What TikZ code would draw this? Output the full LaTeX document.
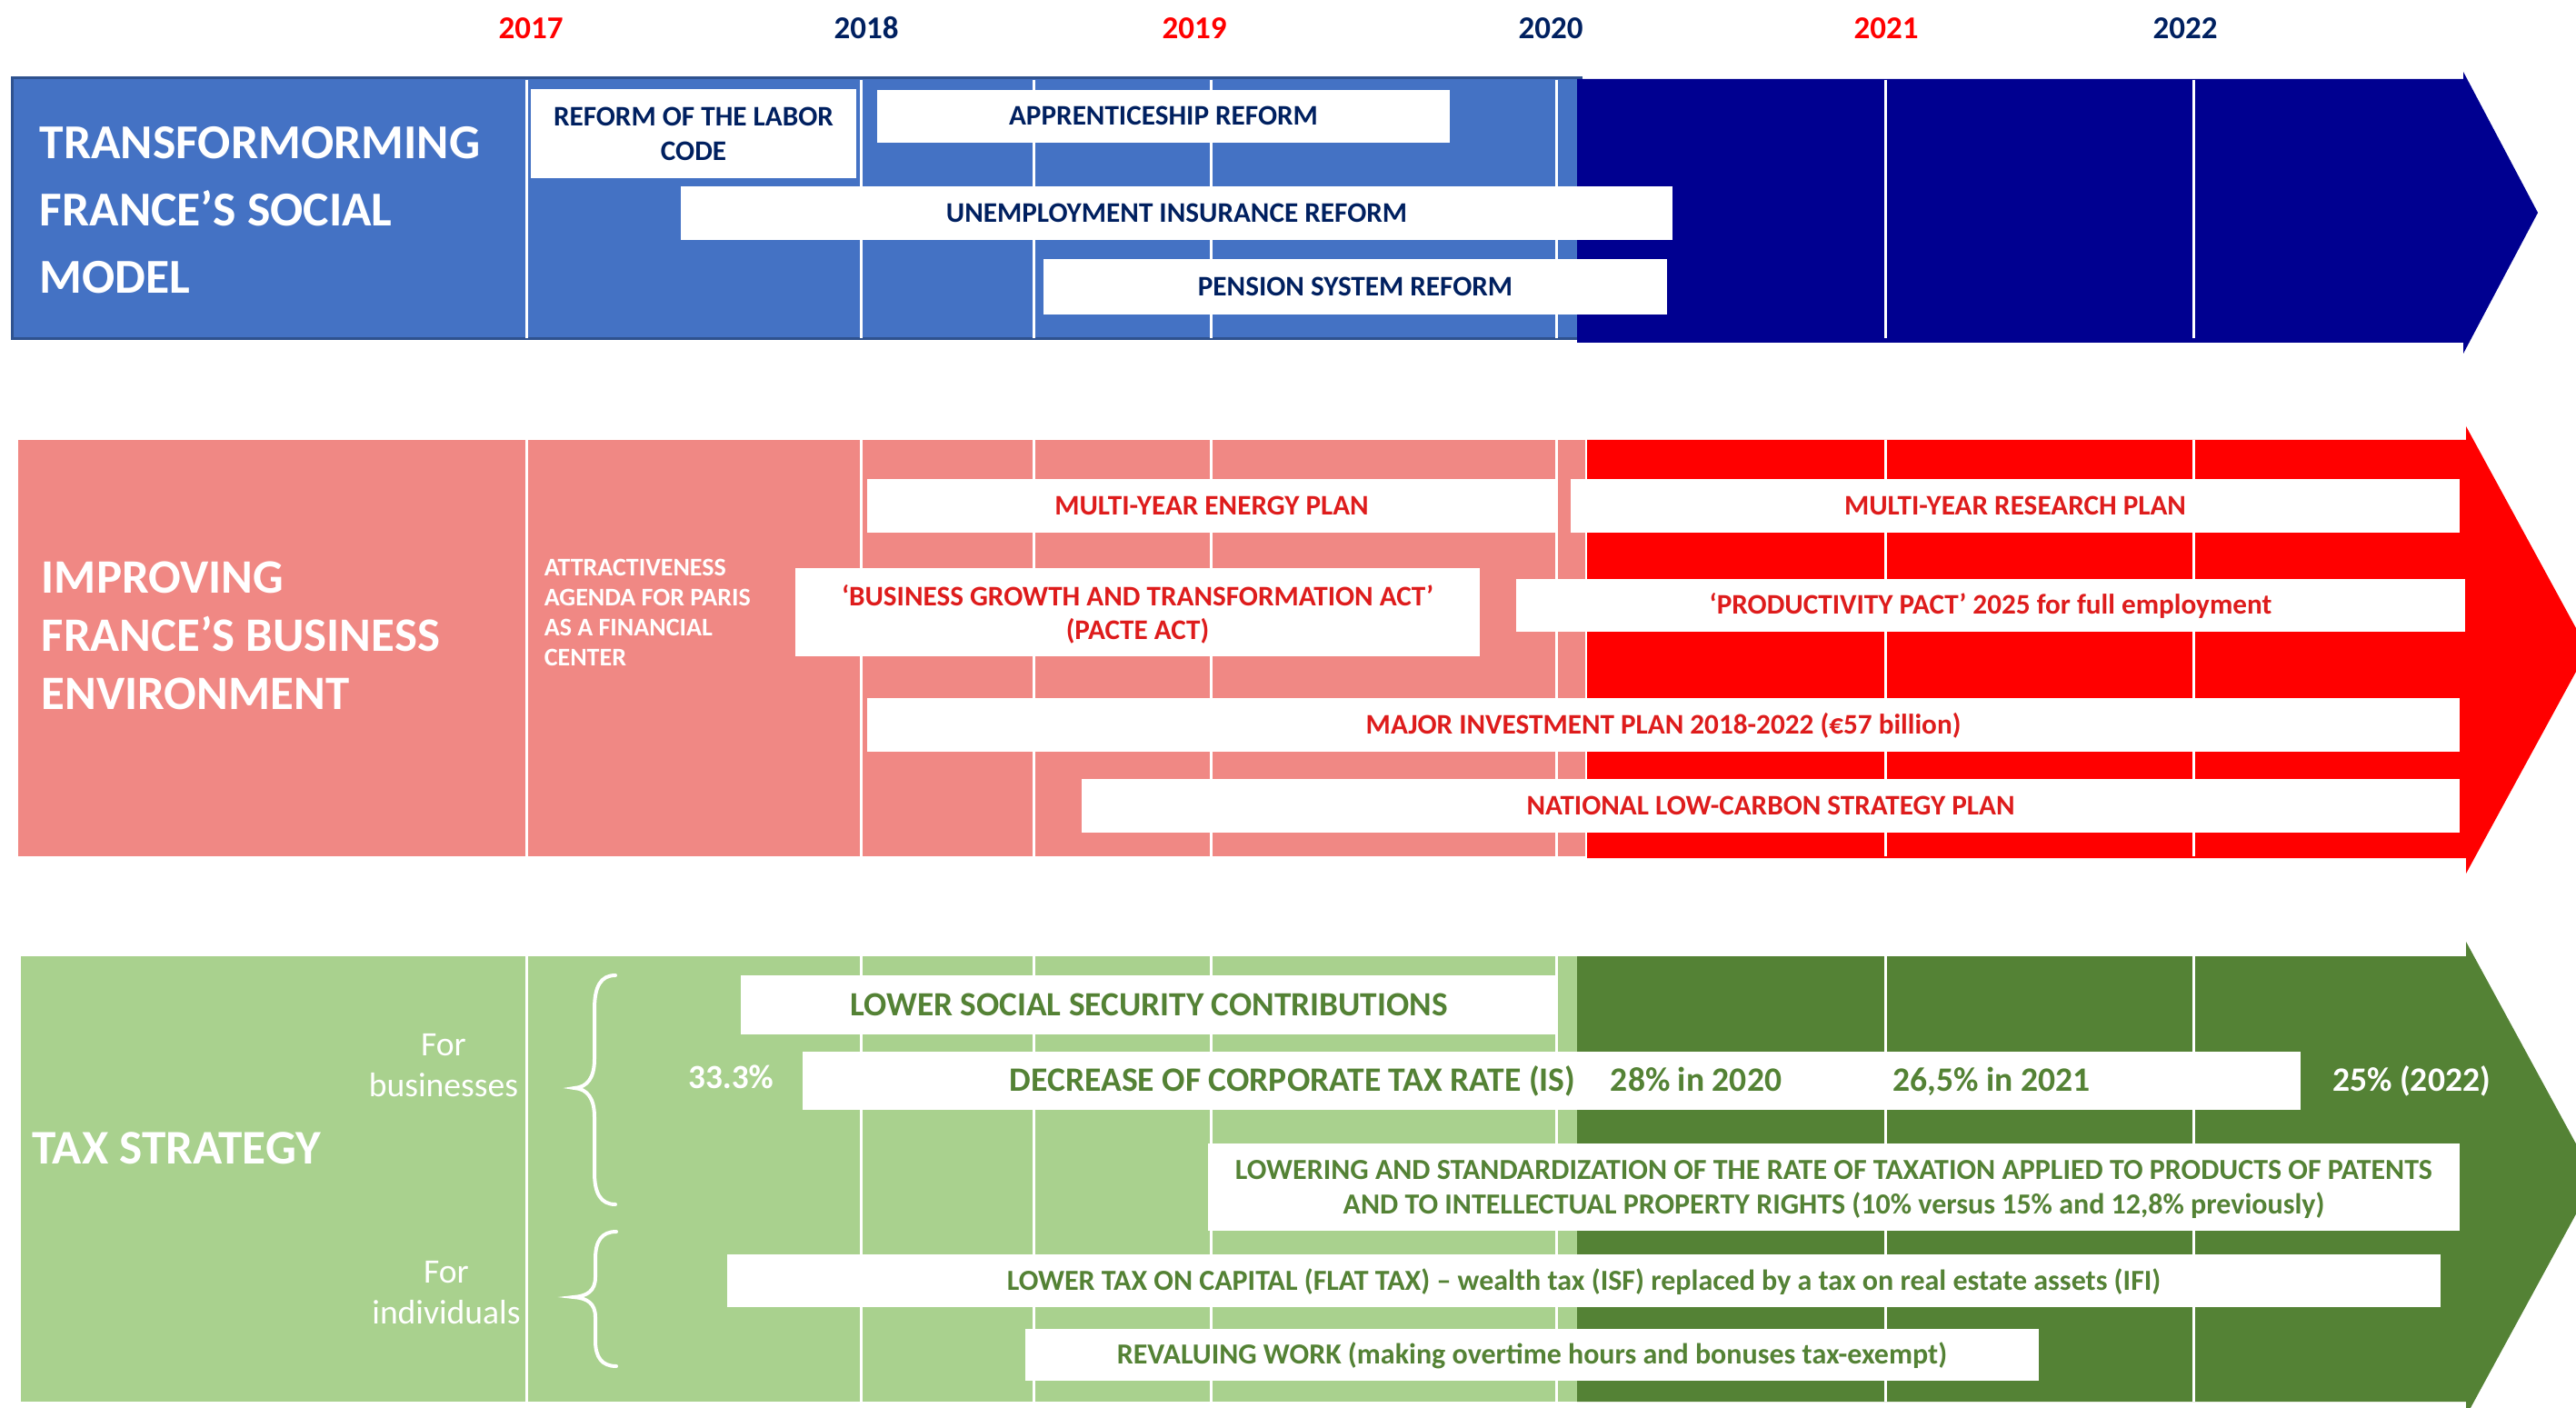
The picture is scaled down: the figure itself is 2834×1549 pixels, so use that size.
\documentclass[tikz,border=0pt]{standalone}
\usepackage{fontspec}
\setmainfont{Carlito}
\definecolor{blueL}{RGB}{68,114,196}
\definecolor{blueB}{RGB}{47,82,143}
\definecolor{navyF}{RGB}{0,0,144}
\definecolor{navyT}{RGB}{0,32,96}
\definecolor{pinkL}{RGB}{240,136,132}
\definecolor{redF}{RGB}{255,0,0}
\definecolor{redT}{RGB}{222,28,28}
\definecolor{greenL}{RGB}{169,209,142}
\definecolor{greenD}{RGB}{84,130,53}
\definecolor{greenT}{RGB}{84,130,53}
\begin{document}
\begin{tikzpicture}[x=0.25pt,y=-0.25pt,
  wbox/.style={fill=white, inner sep=0pt, align=center},
  bx/.style 2 args={minimum width=#1*0.25pt, minimum height=#2*0.25pt},
  capbox/.style={text height=#1, text depth=0pt},
  gridl/.style={white, line width=0.75pt},
  yr/.style={font=\bfseries\fontsize{8.75}{10}\selectfont, inner sep=0pt},
  ttl/.style={white, inner sep=0pt, align=left, anchor=west},
  lbl/.style={inner sep=0pt},
  bracestyle/.style={white, line width=1pt, line cap=round},
  fA/.style={font=\bfseries\fontsize{7.8}{9.5}\selectfont},
  fB/.style={font=\bfseries\fontsize{7.8}{9.25}\selectfont},
]
\useasboundingbox (0,0) rectangle (2834,1549);
\clip (0,0) rectangle (2834,1549);

% ---------- bands ----------
\fill[blueL, draw=blueB, line width=0.75pt] (13,86) rectangle (1739,373);
\fill[navyF] (1735,87) -- (2710,87) -- (2710,79) -- (2792,234) -- (2710,389) -- (2710,377) -- (1735,377) -- cycle;

\fill[pinkL] (20,484) rectangle (1744,942);
\fill[redF] (1746,484) -- (2713,484) -- (2713,469) -- (2847,715) -- (2713,961) -- (2713,944) -- (1746,944) -- cycle;

\fill[greenL] (23,1052) rectangle (1735,1542);
\fill[greenD] (1735,1052) -- (2713,1052) -- (2713,1036) -- (2855,1297) -- (2713,1558) -- (2713,1542) -- (1735,1542) -- cycle;

% ---------- grid lines ----------
\foreach \gx in {579,947,1137,1332,1712,2074,2413} {
  \draw[gridl] (\gx,88) -- (\gx,372);
  \draw[gridl] (\gx,484) -- (\gx,942);
  \draw[gridl] (\gx,1052) -- (\gx,1542);
}

% ---------- years ----------
\node[yr, text=redF]  (y17) at (584,31)  {2017};
\node[yr, text=navyT] (y18) at (953,31)  {2018};
\node[yr, text=redF]  (y19) at (1314,31) {2019};
\node[yr, text=navyT] (y20) at (1706,31) {2020};
\node[yr, text=redF]  (y21) at (2075,31) {2021};
\node[yr, text=navyT] (y22) at (2404,31) {2022};

% ---------- row 1 ----------
\node[ttl, font=\bfseries\fontsize{13.4}{18.5}\selectfont] (t1) at (43,231)
  {TRANSFORMORMING\\FRANCE’S SOCIAL\\MODEL};
\node[wbox, bx={358}{98}, fA, text=navyT] (labor) at (763,147) {REFORM OF THE LABOR\\CODE};
\node[wbox, bx={630}{58}, fA, capbox=4.93pt, text=navyT] (appr) at (1280,128) {APPRENTICESHIP REFORM};
\node[wbox, bx={1091}{59}, fA, capbox=4.93pt, text=navyT] (unemp) at (1294.5,234.5) {UNEMPLOYMENT INSURANCE REFORM};
\node[wbox, bx={686}{61}, fA, capbox=4.93pt, text=navyT] (pension) at (1491,315.5) {PENSION SYSTEM REFORM};

% ---------- row 2 ----------
\node[ttl, font=\bfseries\fontsize{13.2}{16}\selectfont] (t2) at (45,699.5)
  {IMPROVING\\FRANCE’S BUSINESS\\ENVIRONMENT};
\node[ttl, font=\bfseries\fontsize{7}{8.25}\selectfont] (attr) at (598,673.5)
  {ATTRACTIVENESS\\AGENDA FOR PARIS\\AS A FINANCIAL\\CENTER};
\node[wbox, bx={758}{59}, fB, capbox=4.93pt, text=redT] (energy) at (1333,556.5) {MULTI-YEAR ENERGY PLAN};
\node[wbox, bx={978}{59}, fB, capbox=4.93pt, text=redT] (research) at (2217,556.5) {MULTI-YEAR RESEARCH PLAN};
\node[wbox, bx={753}{97}, fB, text depth=0pt, text=redT] (pacte) at (1251.5,673.5) {‘BUSINESS GROWTH AND TRANSFORMATION ACT’\\(PACTE ACT)};
\node[wbox, bx={1044}{58}, fB, capbox=4.93pt, text=redT] (prod) at (2190,666) {‘PRODUCTIVITY PACT’ 2025 for full employment};
\node[wbox, bx={1752}{59}, fB, capbox=4.93pt, text=redT] (invest) at (1830,797.5) {MAJOR INVESTMENT PLAN 2018-2022 (€57 billion)};
\node[wbox, bx={1516}{59}, fB, capbox=4.93pt, text=redT] (lowc) at (1948,886.5) {NATIONAL LOW-CARBON STRATEGY PLAN};

% ---------- row 3 ----------
\node[ttl, font=\bfseries\fontsize{13.3}{16}\selectfont] (t3) at (35,1263.5) {TAX STRATEGY};
\node[lbl, white, align=center, font=\fontsize{9.4}{11.15}\selectfont] (forbus) at (488,1172) {For\\businesses};
\node[lbl, white, align=center, font=\fontsize{9.4}{11.15}\selectfont] (forind) at (491,1422) {For\\individuals};

\draw[bracestyle] (677,1073) .. controls (661,1073) and (654,1085) .. (654,1110) -- (654,1165)
  .. controls (654,1186) and (646,1196) .. (632,1197)
  .. controls (646,1198) and (654,1208) .. (654,1229) -- (654,1290)
  .. controls (654,1313) and (661,1325) .. (677,1325);
\draw[bracestyle] (678,1355) .. controls (662,1355) and (655,1365) .. (655,1385) -- (655,1405)
  .. controls (655,1420) and (646,1426) .. (631,1427)
  .. controls (646,1428) and (655,1434) .. (655,1449) -- (655,1475)
  .. controls (655,1493) and (662,1503) .. (678,1503);

\node[lbl, white, anchor=base, font=\bfseries\fontsize{9.3}{10}\selectfont] (c333) at (804,1197.5) {33.3\%};

\node[wbox, bx={898}{65}, capbox=5.9pt, text=greenT, font=\bfseries\fontsize{9.33}{11}\selectfont] (social) at (1264,1105.5) {LOWER SOCIAL SECURITY CONTRIBUTIONS};
\node[wbox, bx={1648}{64}] (corp) at (1707,1189) {};
\node[lbl, anchor=base, text=greenT, font=\bfseries\fontsize{9.4}{10}\selectfont] (corptxt) at (1422,1200.5) {DECREASE OF CORPORATE TAX RATE (IS)};
\node[lbl, anchor=base, text=greenT, font=\bfseries\fontsize{9.4}{10}\selectfont] (c2020) at (1866,1200.5) {28\% in 2020};
\node[lbl, anchor=base, text=greenT, font=\bfseries\fontsize{9.4}{10}\selectfont] (c2021) at (2191,1200.5) {26,5\% in 2021};
\node[lbl, anchor=base, white, font=\bfseries\fontsize{9.4}{10}\selectfont] (c2022) at (2653,1200.5) {25\% (2022)};

\node[wbox, bx={1377}{96}, text depth=0pt, text=greenT, font=\bfseries\fontsize{8}{9.4}\selectfont] (patents) at (2017.5,1306)
  {LOWERING AND STANDARDIZATION OF THE RATE OF TAXATION APPLIED TO PRODUCTS OF PATENTS\\AND TO INTELLECTUAL PROPERTY RIGHTS (10\% versus 15\% and 12,8\% previously)};
\node[wbox, bx={1885}{58}, capbox=5.06pt, text=greenT, font=\bfseries\fontsize{8}{9}\selectfont] (capital) at (1742.5,1409)
  {LOWER TAX ON CAPITAL (FLAT TAX) – wealth tax (ISF) replaced by a tax on real estate assets (IFI)};
\node[wbox, bx={1115}{57}, capbox=5.06pt, text=greenT, font=\bfseries\fontsize{8}{9}\selectfont] (revalue) at (1685.5,1490.5)
  {REVALUING WORK (making overtime hours and bonuses tax-exempt)};
\end{tikzpicture}
\end{document}
